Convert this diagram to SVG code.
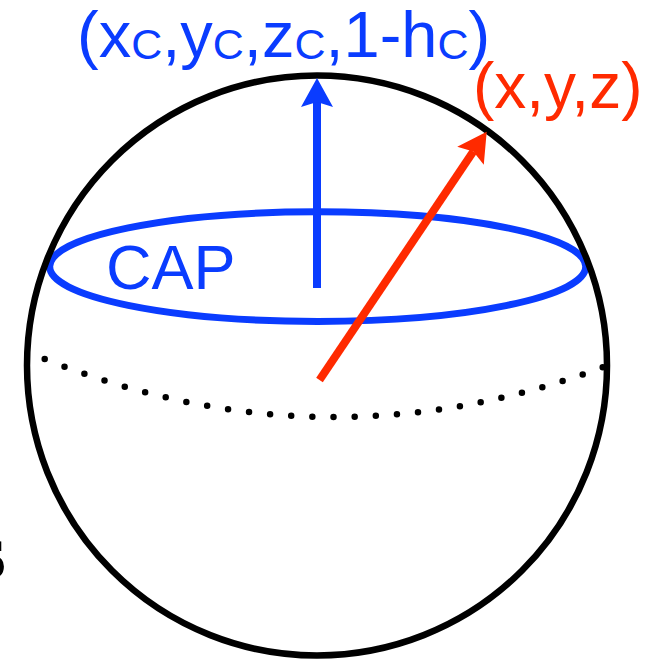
<svg xmlns="http://www.w3.org/2000/svg" width="650" height="660" viewBox="0 0 650 660">
  <style>
    .sans { font-family: "Liberation Sans", Arial, sans-serif; }
    .blue { fill: #0a3cff; }
    .red { fill: #ff2a00; }
  </style>
  <defs>
    <marker id="headBlue" markerUnits="userSpaceOnUse" orient="auto" refX="0" refY="0" markerWidth="60" markerHeight="60" viewBox="-10 -30 60 60" overflow="visible">
      <path d="M24,0 L-5,-16 L0,0 L-5,16 Z" fill="#0a3cff"/>
    </marker>
    <marker id="headRed" markerUnits="userSpaceOnUse" orient="auto" refX="0" refY="0" markerWidth="60" markerHeight="60" viewBox="-10 -30 60 60" overflow="visible">
      <path d="M24,0 L-5,-16 L0,0 L-5,16 Z" fill="#ff2a00"/>
    </marker>
  </defs>
  <rect width="650" height="660" fill="#ffffff"/>

  <g id="cap">
    <ellipse cx="317.7" cy="266.6" rx="268" ry="54.8" fill="none" stroke="#0a3cff" stroke-width="7"/>
    <text class="sans blue" x="106" y="289" font-size="63">CAP</text>
  </g>

  <g id="sphere">
    <circle cx="317" cy="365.5" r="290" fill="none" stroke="#000000" stroke-width="6.5"/>
  </g>

  <g id="equator">
    <path d="M44.7,359 Q323.7,470.8 602.7,367.3" pathLength="27" fill="none" stroke="#000000" stroke-width="6.5" stroke-linecap="round" stroke-dasharray="0 1"/>
  </g>

  <g id="connectors">
    <line x1="317" y1="288" x2="317" y2="102" stroke="#0a3cff" stroke-width="8" marker-end="url(#headBlue)"/>
    <line x1="319.5" y1="380" x2="473.3" y2="151.6" stroke="#ff2a00" stroke-width="8" marker-end="url(#headRed)"/>
  </g>

  <g id="cap-point">
    <text class="sans blue" x="77" y="57" font-size="65">(x<tspan font-size="43" dy="2">C</tspan><tspan dy="-2">,y</tspan><tspan font-size="43" dy="2">C</tspan><tspan dy="-2">,z</tspan><tspan font-size="43" dy="2">C</tspan><tspan dy="-2">,1-h</tspan><tspan font-size="43" dy="2">C</tspan><tspan dy="-2">)</tspan></text>
  </g>

  <g id="point">
    <text class="sans red" x="473" y="108" font-size="64">(x,y,z)</text>
  </g>

  <g id="fragment">
    <text x="6" y="578" font-family="'Liberation Serif', 'Times New Roman', serif" font-size="80" font-weight="bold" text-anchor="end">s</text>
  </g>
</svg>
